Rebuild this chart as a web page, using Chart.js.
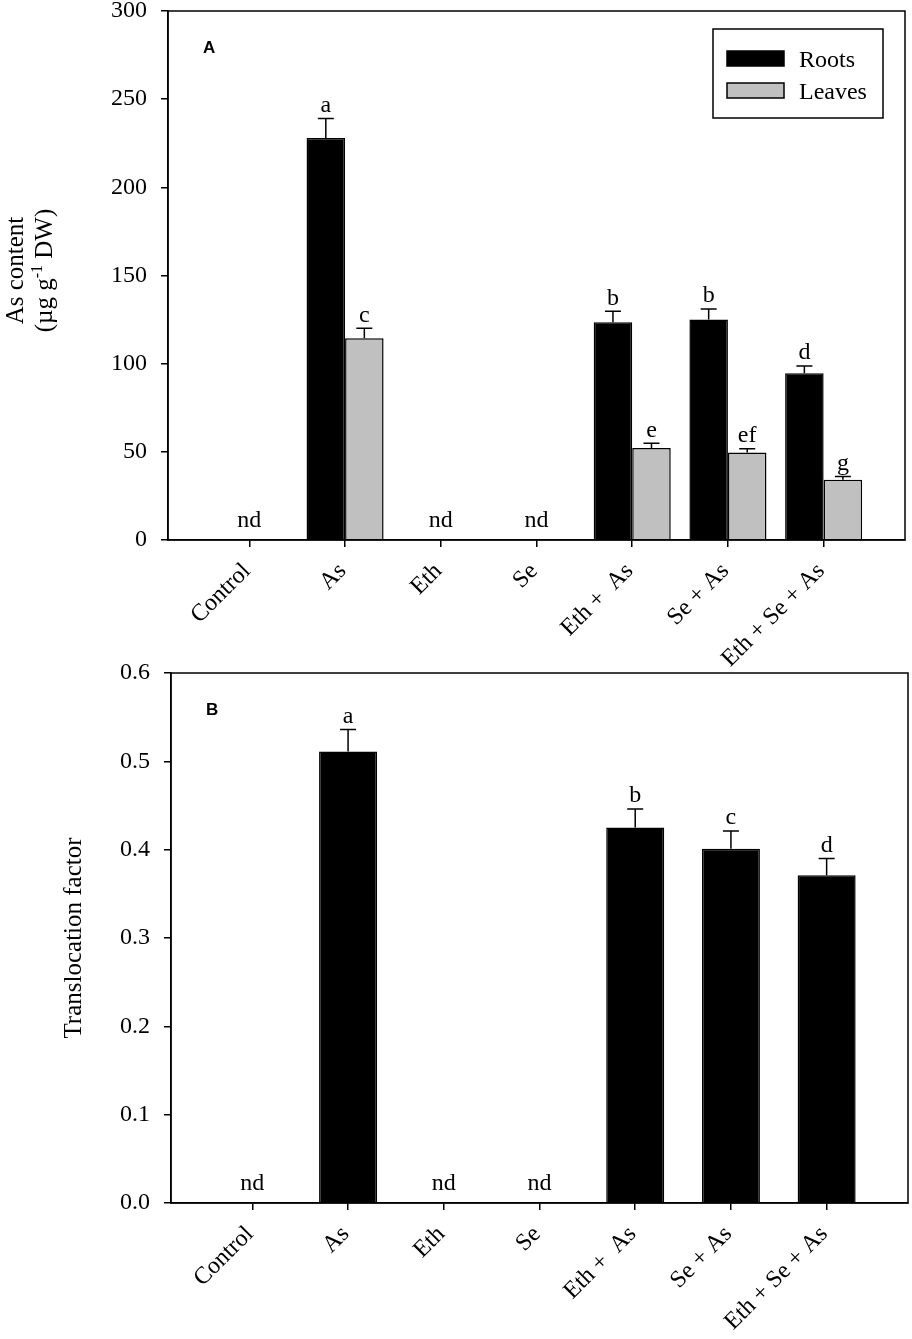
<!DOCTYPE html>
<html>
<head>
<meta charset="utf-8">
<script src="https://cdn.jsdelivr.net/npm/chart.js@4.4.0/dist/chart.umd.min.js"></script>
<style>
  body { margin: 0; background: #fff; }
  .panel { position: absolute; left: 0; width: 912px; }
  #panelA { top: 0; height: 700px; }
  #panelB { top: 660px; height: 679px; }
</style>
</head>
<body>
<div class="panel" id="panelA"><canvas id="chartA" width="912" height="700"></canvas></div>
<div class="panel" id="panelB"><canvas id="chartB" width="912" height="679"></canvas></div>
<script>
// categories and values (null = not detected, "nd")
var categories = ["Control", "As", "Eth", "Se", "Eth +  As", "Se + As", "Eth + Se + As"];

var rootsMean = [null, 228, null, null, 123.5, 125, 94.5];
var rootsErr = [0, 11, 0, 0, 6.2, 6, 4.2];
var rootsLetters = ["", "a", "", "", "b", "b", "d"];

var leavesMean = [null, 114.4, null, null, 52.2, 49.6, 34.1];
var leavesErr = [0, 5.7, 0, 0, 2.6, 2.2, 1.9];
var leavesLetters = ["", "c", "", "", "e", "ef", "g"];

var tfMean = [null, 0.511, null, null, 0.425, 0.401, 0.371];
var tfErr = [0, 0.025, 0, 0, 0.021, 0.02, 0.019];
var tfLetters = ["", "a", "", "", "b", "c", "d"];

var contentTicks = [0, 50, 100, 150, 200, 250, 300];
var tfTicks = [0, 0.1, 0.2, 0.3, 0.4, 0.5, 0.6];

var SERIF = "'Liberation Serif', 'Times New Roman', serif";
var SANS = "'Liberation Sans', Arial, sans-serif";

function points(values) {
  return values.map(function (v, i) { return { x: i + 1, y: v }; });
}

// error bars (upper half only) + significance letters
function errorBars(errs, letters) {
  return {
    id: "errorBars",
    afterDatasetsDraw: function (chart) {
      var ctx = chart.ctx, ys = chart.scales.y;
      chart.data.datasets.forEach(function (ds, di) {
        chart.getDatasetMeta(di).data.forEach(function (bar, i) {
          var v = ds.data[i].y;
          if (v === null) return;
          var top = ys.getPixelForValue(v + errs[di][i]);
          ctx.save();
          ctx.strokeStyle = "#000";
          ctx.lineWidth = 1.5;
          ctx.beginPath();
          ctx.moveTo(bar.x, bar.y);
          ctx.lineTo(bar.x, top);
          ctx.moveTo(bar.x - 8, top);
          ctx.lineTo(bar.x + 8, top);
          ctx.stroke();
          ctx.fillStyle = "#000";
          ctx.font = "24px " + SERIF;
          ctx.textAlign = "center";
          ctx.textBaseline = "bottom";
          ctx.fillText(letters[di][i], bar.x, top - 1);
          ctx.restore();
        });
      });
    }
  };
}

// "nd", frame, rotated category labels, panel letter, y title
function decorations(panelLetter, titleParts) {
  return {
    id: "decorations",
    afterDraw: function (chart) {
      var ctx = chart.ctx, a = chart.chartArea;
      var xs = chart.scales.x, ys = chart.scales.y;
      ctx.save();
      ctx.fillStyle = "#000";
      ctx.font = "24px " + SERIF;
      ctx.textAlign = "center";
      ctx.textBaseline = "alphabetic";
      categories.forEach(function (c, i) {
        var empty = chart.data.datasets.every(function (ds) { return ds.data[i].y === null; });
        if (empty) ctx.fillText("nd", xs.getPixelForValue(i + 1), ys.getPixelForValue(0) - 13);
      });

      ctx.textAlign = "right";
      categories.forEach(function (c, i) {
        ctx.save();
        ctx.translate(xs.getPixelForValue(i + 1) + 2, a.bottom + 32);
        ctx.rotate(-Math.PI / 4);
        ctx.fillText(c, 0, 0);
        ctx.restore();
      });

      ctx.strokeStyle = "#000";
      ctx.lineWidth = 1.5;
      ctx.strokeRect(a.left, a.top, a.right - a.left, a.bottom - a.top);

      ctx.font = "bold 17px " + SANS;
      ctx.textAlign = "left";
      ctx.fillText(panelLetter, a.left + 35, a.top + 42);

      // rotated y title, each line may hold a superscript
      var cy = (a.top + a.bottom) / 2 + titleParts.shift;
      titleParts.lines.forEach(function (line) {
        ctx.save();
        ctx.translate(line.x, cy);
        ctx.rotate(-Math.PI / 2);
        var widths = line.parts.map(function (p) {
          ctx.font = (p.sup ? "16px " : "25px ") + SERIF;
          return ctx.measureText(p.text).width;
        });
        var total = widths.reduce(function (s, w) { return s + w; }, 0);
        var px = -total / 2;
        ctx.textAlign = "left";
        line.parts.forEach(function (p, k) {
          ctx.font = (p.sup ? "16px " : "25px ") + SERIF;
          ctx.fillText(p.text, px, p.sup ? -10 : 0);
          px += widths[k];
        });
        ctx.restore();
      });
      ctx.restore();
    }
  };
}

function legendBox() {
  return {
    id: "legendBox",
    afterDraw: function (chart) {
      var ctx = chart.ctx, a = chart.chartArea;
      var x0 = a.right - 192, y0 = a.top + 18;
      ctx.save();
      ctx.lineWidth = 1.5;
      ctx.strokeStyle = "#000";
      ctx.fillStyle = "#fff";
      ctx.fillRect(x0, y0, 170, 89);
      ctx.strokeRect(x0, y0, 170, 89);
      chart.data.datasets.forEach(function (ds, i) {
        var sy = y0 + 22 + i * 32;
        ctx.fillStyle = ds.backgroundColor;
        ctx.fillRect(x0 + 14, sy, 57, 15);
        ctx.strokeRect(x0 + 14, sy, 57, 15);
        ctx.fillStyle = "#000";
        ctx.font = "24px " + SERIF;
        ctx.textBaseline = "alphabetic";
        ctx.fillText(ds.label, x0 + 86, sy + 16);
      });
      ctx.restore();
    }
  };
}

function makeChart(id, datasets, cfg) {
  return new Chart(document.getElementById(id), {
    type: "bar",
    data: { datasets: datasets },
    options: {
      responsive: false,
      animation: false,
      layout: { padding: { left: 0, top: cfg.top, right: cfg.right, bottom: 0 } },
      plugins: { legend: { display: false }, tooltip: { enabled: false } },
      datasets: { bar: { categoryPercentage: cfg.catPct, barPercentage: 1 } },
      scales: {
        x: {
          type: "linear",
          offset: false,
          min: 0.15,
          max: 7.85,
          afterBuildTicks: function (s) {
            s.ticks = categories.map(function (c, i) { return { value: i + 1 }; });
          },
          afterFit: function (s) {
            s.height = cfg.xHeight;
            s.paddingLeft = 0;
            s.paddingRight = 0;
          },
          grid: { offset: false, drawOnChartArea: false, drawTicks: true, tickLength: 7, color: "#000", lineWidth: 1.5 },
          border: { display: true, color: "#000", width: 1.5 },
          ticks: { display: false, autoSkip: false }
        },
        y: {
          min: cfg.yTicks[0],
          max: cfg.yTicks[cfg.yTicks.length - 1],
          afterBuildTicks: function (s) {
            s.ticks = cfg.yTicks.map(function (v) { return { value: v }; });
          },
          afterFit: function (s) {
            s.width = cfg.yWidth;
            s.paddingTop = 0;
            s.paddingBottom = 0;
          },
          grid: { drawOnChartArea: false, drawTicks: true, tickLength: 7, color: "#000", lineWidth: 1.5 },
          border: { display: true, color: "#000", width: 1.5 },
          ticks: {
            padding: 14,
            color: "#000",
            font: { family: SERIF, size: 24 },
            callback: cfg.yFormat
          }
        }
      }
    },
    plugins: cfg.plugins
  });
}

makeChart("chartA", [
  { label: "Roots", data: points(rootsMean), backgroundColor: "#000000", borderColor: "#000", borderWidth: 1.5 },
  { label: "Leaves", data: points(leavesMean), backgroundColor: "#c0c0c0", borderColor: "#000", borderWidth: 1.5 }
], {
  top: 11, right: 7, xHeight: 160, yWidth: 168, catPct: 0.805,
  yTicks: contentTicks,
  yFormat: function (v) { return String(v); },
  plugins: [
    errorBars([rootsErr, leavesErr], [rootsLetters, leavesLetters]),
    decorations("A", { shift: -5, lines: [
      { x: 23, parts: [{ text: "As content" }] },
      { x: 52, parts: [{ text: "(\u00b5g g" }, { text: "-1", sup: true }, { text: " DW)" }] }
    ] }),
    legendBox()
  ]
});

makeChart("chartB", [
  { label: "Translocation factor", data: points(tfMean), backgroundColor: "#000000", borderColor: "#000", borderWidth: 1.5 }
], {
  top: 13, right: 4, xHeight: 136, yWidth: 171, catPct: 0.606,
  yTicks: tfTicks,
  yFormat: function (v) { return v.toFixed(1); },
  plugins: [
    errorBars([tfErr], [tfLetters]),
    decorations("B", { shift: 0, lines: [
      { x: 81, parts: [{ text: "Translocation factor" }] }
    ] })
  ]
});
</script>
</body>
</html>
